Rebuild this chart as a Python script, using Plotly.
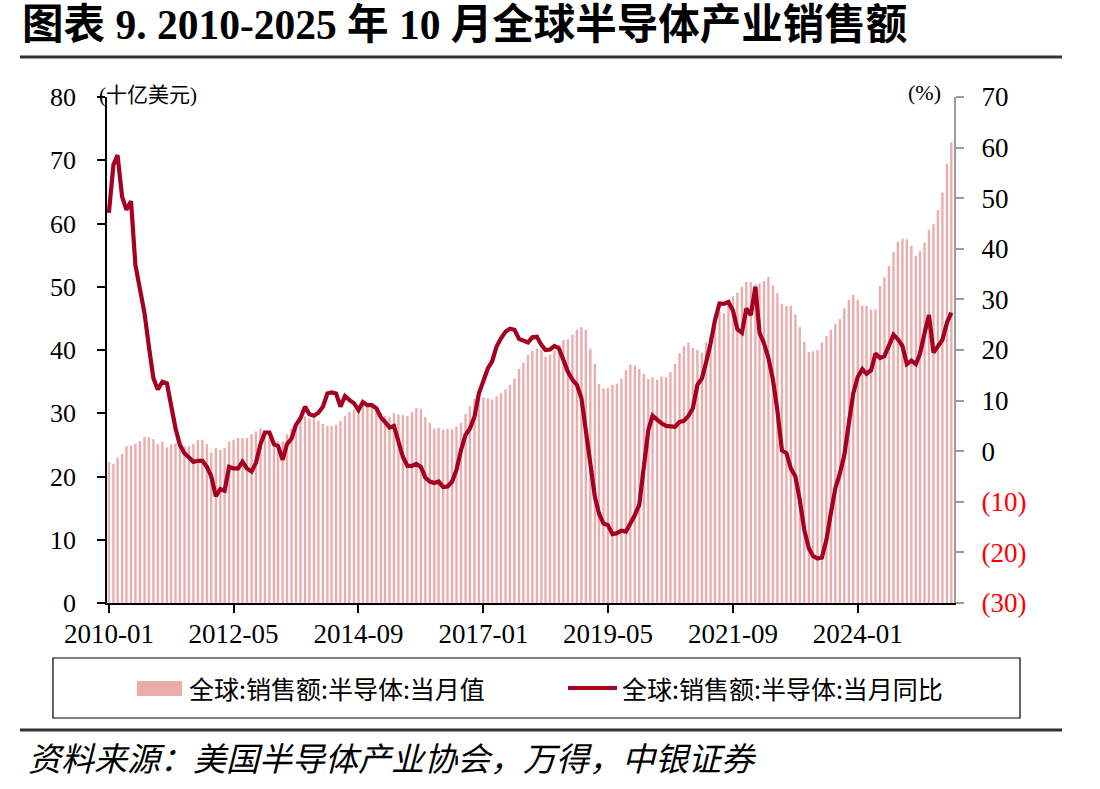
import plotly.graph_objects as go
import pandas as pd

# ---------------- data ----------------
# Monthly global semiconductor sales, billion USD
sales_2010 = [22.3, 22.0, 23.0, 23.6, 24.8, 24.9, 25.2, 25.6, 26.3, 26.2, 25.9, 25.1]
sales_2011 = [25.5, 24.6, 25.1, 25.2, 24.8, 24.8, 24.8, 25.1, 25.8, 25.8, 25.1, 23.8]
sales_2012 = [24.5, 24.2, 24.5, 25.5, 25.8, 26.1, 26.1, 26.1, 26.7, 27.1, 27.6, 27.0]
sales_2013 = [26.3, 25.0, 25.6, 25.5, 26.7, 27.6, 28.4, 28.9, 29.5, 29.2, 29.2, 28.8]
sales_2014 = [28.3, 28.0, 28.0, 28.2, 28.8, 29.6, 30.2, 30.6, 31.0, 31.3, 31.3, 31.0]
sales_2015 = [30.6, 30.0, 29.6, 29.4, 30.0, 29.8, 29.7, 29.6, 30.2, 30.8, 30.7, 29.4]
sales_2016 = [28.5, 27.6, 27.7, 27.4, 27.5, 27.5, 27.9, 28.5, 29.9, 31.1, 32.3, 32.7]
sales_2017 = [32.5, 32.4, 32.2, 32.7, 33.2, 33.8, 34.5, 35.5, 37.0, 38.0, 39.2, 39.9]
sales_2018 = [40.2, 40.0, 38.9, 39.2, 39.9, 40.8, 41.6, 41.7, 42.4, 43.2, 43.6, 43.2]
sales_2019 = [40.2, 37.8, 34.6, 33.9, 34.0, 34.5, 34.7, 35.5, 36.8, 37.7, 37.6, 37.0]
sales_2020 = [36.2, 35.4, 35.7, 35.3, 35.8, 35.7, 36.5, 37.8, 39.5, 40.6, 41.2, 40.3]
sales_2021 = [40.0, 39.6, 41.2, 42.1, 44.7, 46.1, 45.8, 47.4, 48.5, 49.1, 50.0, 50.8]
sales_2022 = [50.7, 50.4, 50.5, 50.9, 51.6, 50.2, 49.0, 47.3, 47.0, 47.0, 45.6, 43.6]
sales_2023 = [41.3, 39.7, 39.8, 40.0, 41.2, 42.2, 43.2, 44.1, 44.9, 46.6, 47.9, 48.7]
sales_2024 = [47.9, 47.0, 47.0, 46.4, 46.4, 50.1, 51.5, 53.3, 55.5, 57.1, 57.6, 57.5]
sales_2025 = [56.5, 54.9, 55.6, 57.0, 59.0, 59.9, 62.1, 64.9, 69.4, 72.8]

# Year-over-year growth, %
yoy_2010 = [47.1, 56.6, 58.5, 50.3, 47.7, 49.4, 36.8, 31.9, 27.3, 20.7, 14.4, 12.2]
yoy_2011 = [13.7, 13.4, 8.8, 4.5, 1.2, -0.4, -1.2, -2.1, -1.9, -1.9, -3.1, -5.0]
yoy_2012 = [-8.9, -7.5, -7.8, -3.1, -3.4, -3.4, -2.1, -3.4, -4.0, -2.3, 1.4, 3.7]
yoy_2013 = [3.7, 1.4, 1.0, -1.7, 1.4, 2.5, 5.2, 6.5, 8.8, 7.3, 7.0, 7.6]
yoy_2014 = [8.8, 11.4, 11.6, 11.4, 8.8, 10.9, 10.1, 9.5, 8.1, 9.7, 9.1, 9.1]
yoy_2015 = [8.5, 6.7, 5.8, 4.7, 5.0, 1.9, -1.1, -2.9, -2.9, -2.5, -3.1, -5.2]
yoy_2016 = [-6.0, -6.3, -6.0, -7.1, -7.0, -6.0, -3.7, 0.2, 3.2, 4.5, 6.8, 11.4]
yoy_2017 = [13.7, 16.4, 17.7, 20.7, 22.3, 23.6, 24.2, 24.0, 22.2, 21.8, 21.5, 22.5]
yoy_2018 = [22.6, 21.0, 20.0, 20.1, 20.8, 20.3, 18.0, 15.7, 14.1, 13.1, 10.5, 4.2]
yoy_2019 = [-3.1, -9.0, -12.3, -14.3, -14.6, -16.4, -16.2, -15.7, -15.9, -14.3, -12.6, -10.6]
yoy_2020 = [-3.1, 4.2, 7.0, 6.2, 5.5, 5.0, 4.8, 4.8, 5.8, 6.0, 7.0, 8.5]
yoy_2021 = [13.1, 14.4, 17.5, 21.3, 25.9, 29.2, 29.1, 29.5, 27.8, 24.1, 23.4, 28.2]
yoy_2022 = [26.9, 32.5, 23.4, 21.3, 18.4, 14.1, 8.1, 0.2, -0.4, -3.4, -5.0, -9.6]
yoy_2023 = [-15.6, -19.2, -20.7, -21.2, -21.0, -17.5, -12.3, -7.3, -4.4, -0.8, 5.5, 11.4]
yoy_2024 = [14.7, 16.2, 15.3, 16.0, 19.3, 18.4, 18.8, 20.7, 23.0, 22.1, 20.8, 17.2]
yoy_2025 = [17.9, 17.2, 19.3, 23.3, 26.9, 19.5, 20.7, 22.0, 25.4, 27.4]

tick_dates = ["2010-01-01", "2012-05-01", "2014-09-01", "2017-01-01",
              "2019-05-01", "2021-09-01", "2024-01-01"]
tick_labels = ["2010-01", "2012-05", "2014-09", "2017-01", "2019-05", "2021-09", "2024-01"]

left_ticks = [0, 10, 20, 30, 40, 50, 60, 70, 80]
right_ticks = [-30, -20, -10, 0, 10, 20, 30, 40, 50, 60, 70]

name_bar = "全球:销售额:半导体:当月值"
name_line = "全球:销售额:半导体:当月同比"
title_text = "图表 9. 2010-2025 年 10 月全球半导体产业销售额"
source_text = "资料来源：美国半导体产业协会，万得，中银证券"

# ---------------- build ----------------
sales = (sales_2010 + sales_2011 + sales_2012 + sales_2013 + sales_2014 + sales_2015 +
         sales_2016 + sales_2017 + sales_2018 + sales_2019 + sales_2020 + sales_2021 +
         sales_2022 + sales_2023 + sales_2024 + sales_2025)
yoy = (yoy_2010 + yoy_2011 + yoy_2012 + yoy_2013 + yoy_2014 + yoy_2015 +
       yoy_2016 + yoy_2017 + yoy_2018 + yoy_2019 + yoy_2020 + yoy_2021 +
       yoy_2022 + yoy_2023 + yoy_2024 + yoy_2025)
months = pd.date_range("2010-01-01", periods=len(sales), freq="MS")

W, H = 1100, 789
L, R, T, B = 107, 954, 97, 603


def xp(px):
    return (px - L) / (R - L)


def yp(py):
    return (B - py) / (B - T)


BAR_COLOR = "#ECACAC"
LINE_COLOR = "#A50021"
SERIF = "Liberation Serif, Times New Roman, Noto Sans CJK SC, serif"
CJK = "Noto Sans CJK SC, sans-serif"
TICK_SIZE = 27
YTICK_SIZE = 26

fig = go.Figure()
fig.add_trace(go.Bar(x=months, y=sales, name=name_bar, yaxis="y",
                     marker=dict(color=BAR_COLOR, line=dict(width=0))))
fig.add_trace(go.Scatter(x=months, y=yoy, name=name_line, yaxis="y2", mode="lines",
                         line=dict(color=LINE_COLOR, width=4.2)))

right_text = []
for v in right_ticks:
    if v < 0:
        right_text.append('<span style="color:#FF0000">(%d)</span>' % abs(v))
    else:
        right_text.append(str(v))

fig.update_layout(
    width=W, height=H,
    margin=dict(l=L, r=W - R, t=T, b=H - B, pad=0),
    paper_bgcolor="white", plot_bgcolor="white",
    showlegend=False,
    bargap=0.42,
    font=dict(family=SERIF, size=TICK_SIZE, color="black"),
    xaxis=dict(
        type="date", range=["2009-12-19", "2025-10-19"],
        tickvals=tick_dates, ticktext=tick_labels,
        showgrid=False, zeroline=False,
        showline=True, linecolor="black", linewidth=1.5,
        ticks="outside", ticklen=8, tickcolor="black", tickwidth=1.5,
        tickfont=dict(family=SERIF, size=TICK_SIZE, color="black"),
        ticklabelstandoff=-2,
    ),
    yaxis=dict(
        range=[0, 80], tickvals=left_ticks,
        showgrid=False, zeroline=False,
        showline=True, linecolor="black", linewidth=1.5,
        ticks="outside", ticklen=8, tickcolor="black", tickwidth=1.5,
        tickfont=dict(family=SERIF, size=YTICK_SIZE, color="black"),
        ticklabelstandoff=16,
    ),
    yaxis2=dict(
        range=[-30, 70], tickvals=right_ticks, ticktext=right_text,
        overlaying="y", side="right",
        showgrid=False, zeroline=False,
        showline=True, linecolor="#9A9A9A", linewidth=2,
        ticks="outside", ticklen=8, tickcolor="#9A9A9A", tickwidth=2,
        tickfont=dict(family=SERIF, size=TICK_SIZE, color="black"),
        ticklabelstandoff=12,
    ),
)

shapes = []
annotations = []

# title and rules
annotations.append(dict(xref="paper", yref="paper", x=xp(20), y=yp(25),
                        xanchor="left", yanchor="middle", showarrow=False,
                        text="<b>" + title_text + "</b>",
                        font=dict(family=SERIF, size=41.5, color="black")))
shapes.append(dict(type="line", xref="paper", yref="paper",
                   x0=xp(20), x1=xp(1062), y0=yp(57), y1=yp(57),
                   line=dict(color="#333333", width=3)))
shapes.append(dict(type="line", xref="paper", yref="paper",
                   x0=xp(20), x1=xp(1062), y0=yp(730), y1=yp(730),
                   line=dict(color="#333333", width=3)))
annotations.append(dict(xref="paper", yref="paper", x=xp(26), y=yp(757),
                        xanchor="left", yanchor="middle", showarrow=False,
                        text="<i>" + source_text + "</i>",
                        font=dict(family=CJK, size=33, color="black")))

# axis unit labels
annotations.append(dict(xref="paper", yref="paper", x=xp(97), y=yp(95),
                        xanchor="left", yanchor="middle", showarrow=False,
                        text="(十亿美元)",
                        font=dict(family=SERIF, size=21, color="black")))
annotations.append(dict(xref="paper", yref="paper", x=xp(943), y=yp(92),
                        xanchor="right", yanchor="middle", showarrow=False,
                        text="(%)",
                        font=dict(family=SERIF, size=22, color="black")))

# legend (drawn)
shapes.append(dict(type="rect", xref="paper", yref="paper",
                   x0=xp(53), x1=xp(1020), y0=yp(658), y1=yp(718),
                   line=dict(color="black", width=1.2), fillcolor="rgba(0,0,0,0)"))
shapes.append(dict(type="rect", xref="paper", yref="paper",
                   x0=xp(137), x1=xp(182), y0=yp(681), y1=yp(696),
                   line=dict(width=0), fillcolor=BAR_COLOR))
shapes.append(dict(type="line", xref="paper", yref="paper",
                   x0=xp(568), x1=xp(617), y0=yp(688), y1=yp(688),
                   line=dict(color=LINE_COLOR, width=4)))
annotations.append(dict(xref="paper", yref="paper", x=xp(187), y=yp(688),
                        xanchor="left", yanchor="middle", showarrow=False,
                        text=name_bar, font=dict(family=CJK, size=25, color="black")))
annotations.append(dict(xref="paper", yref="paper", x=xp(620), y=yp(688),
                        xanchor="left", yanchor="middle", showarrow=False,
                        text=name_line, font=dict(family=CJK, size=25, color="black")))

fig.update_layout(shapes=shapes, annotations=annotations)

fig.write_html("out.html")
